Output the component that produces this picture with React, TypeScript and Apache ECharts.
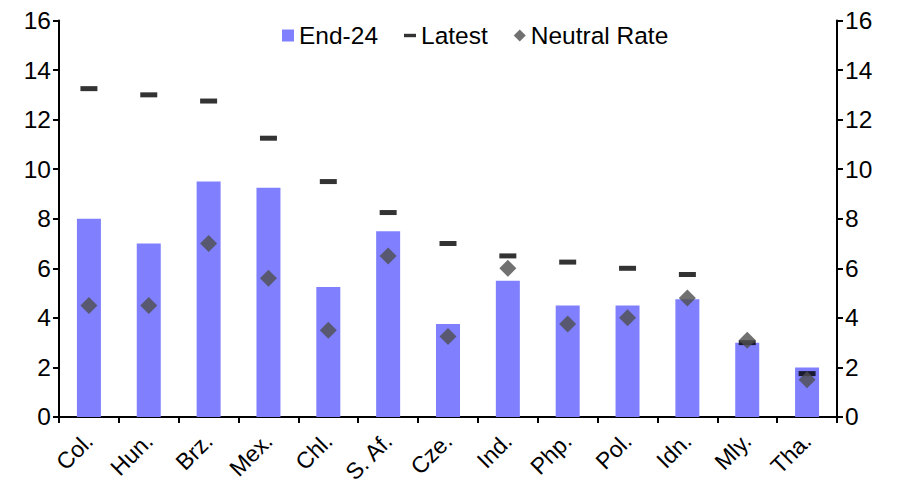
import React, { useEffect, useRef } from "react";
import * as echarts from "echarts";

const categories = ["Col.", "Hun.", "Brz.", "Mex.", "Chl.", "S. Af.", "Cze.", "Ind.", "Php.", "Pol.", "Idn.", "Mly.", "Tha."];
const end24 = [8.0, 7.0, 9.5, 9.25, 5.25, 7.5, 3.75, 5.5, 4.5, 4.5, 4.75, 3.0, 2.0];
const latest = [13.25, 13.0, 12.75, 11.25, 9.5, 8.25, 7.0, 6.5, 6.25, 6.0, 5.75, 3.0, 1.75];
const neutral = [4.5, 4.5, 7.0, 5.6, 3.5, 6.5, 3.25, 6.0, 3.75, 4.0, 4.8, 3.1, 1.5];

const FONT = "'Liberation Sans', Arial, sans-serif";

export default function App() {
  const ref = useRef<HTMLDivElement>(null);
  useEffect(() => {
    if (!ref.current) return;
    const chart = echarts.init(ref.current, null, { renderer: "svg" });
    const axisCommon = {
      type: "value" as const,
      min: 0,
      max: 16,
      interval: 2,
      axisLine: { show: true, lineStyle: { color: "#000", width: 2 } },
      axisTick: { show: true, inside: false, length: 6, lineStyle: { color: "#000", width: 2 } },
      axisLabel: { color: "#000", fontSize: 24.5, fontFamily: FONT, margin: 8 },
      splitLine: { show: false },
    };
    chart.setOption({
      animation: false,
      textStyle: { fontFamily: FONT },
      grid: { left: 51, right: 56, top: 12, bottom: 69, containLabel: false },
      legend: {
        top: 15,
        left: 274,
        padding: 0,
        itemWidth: 12,
        itemHeight: 12,
        itemGap: 26,
        textStyle: { fontSize: 24.5, color: "#000", fontFamily: FONT },
        data: [
          { name: "End-24", icon: "rect" },
          { name: "Latest", icon: "path://M0,0 H14 V4 H0 Z" },
          { name: "Neutral Rate", icon: "diamond" },
        ],
      },
      xAxis: {
        type: "category",
        data: categories,
        boundaryGap: true,
        axisLine: { show: true, lineStyle: { color: "#000", width: 2 } },
        axisTick: { show: true, inside: false, length: 6, alignWithLabel: false, lineStyle: { color: "#000", width: 2 } },
        axisLabel: { color: "#000", fontSize: 23, fontFamily: FONT, rotate: 45, margin: 20, interval: 0 },
      },
      yAxis: [
        { ...axisCommon, position: "left" },
        { ...axisCommon, position: "right" },
      ],
      series: [
        {
          name: "End-24",
          type: "bar",
          data: end24,
          barWidth: 24,
          itemStyle: { color: "#8080ff" },
          z: 1,
        },
        {
          name: "Latest",
          type: "scatter",
          data: latest,
          symbol: "rect",
          symbolSize: [17, 5],
          itemStyle: { color: "#000" },
          z: 3,
        },
        {
          name: "Neutral Rate",
          type: "scatter",
          data: neutral,
          symbol: "diamond",
          symbolSize: [17, 17],
          itemStyle: { color: "#4d4d4d" },
          z: 4,
        },
      ],
    });
    return () => chart.dispose();
  }, []);
  return <div ref={ref} style={{ width: 885, height: 479 }} />;
}
